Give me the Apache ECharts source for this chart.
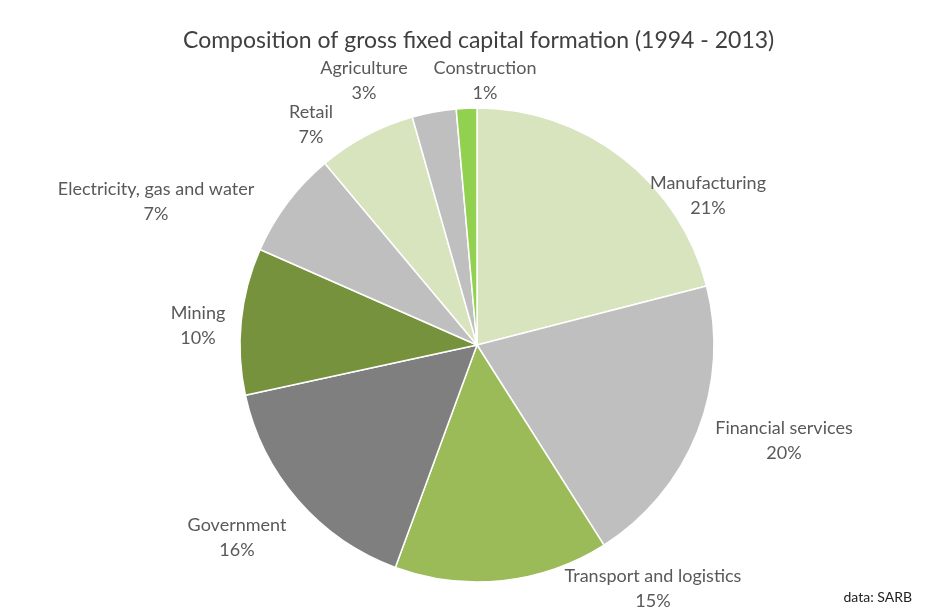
<!DOCTYPE html>
<html><head><meta charset="utf-8">
<script src="https://cdn.jsdelivr.net/npm/echarts@6/dist/echarts.min.js"></script>
<style>html,body{margin:0;padding:0;background:#fff}#c{width:928px;height:610px}</style>
</head><body><div id="c"></div>
<script>
var categories = ['Manufacturing','Financial services','Transport and logistics','Government','Mining','Electricity, gas and water','Retail','Agriculture','Construction'];
var shares = [21, 20, 14.6, 16, 10, 7.3, 6.7, 3, 1.4];
var colors = ['#d7e4bd','#bfbfbf','#9bbb59','#7f7f7f','#76923c','#bfbfbf','#d7e4bd','#bfbfbf','#92d050'];
var titleText = 'Composition of gross fixed capital formation (1994 - 2013)';
var sourceText = 'data: SARB';

// label anchor points (layout only, Excel-style manually placed data labels)
var labelAnchors = [[708,196],[784,441],[653,589],[237,538],[198,326],[156,202],[311,125],[364,81],[485,81]];

var chart = echarts.init(document.getElementById('c'), null, {renderer:'canvas'});
var data = categories.map(function(n,i){return {name:n, value:shares[i], itemStyle:{color:colors[i]}};});
chart.setOption({
  backgroundColor:'#fff',
  animation:false,
  title:{text:titleText, left:178, top:24, textStyle:{fontFamily:'Lato', fontWeight:'normal', fontSize:23, color:'#404040'}},
  graphic:[{type:'text', right:16, bottom:6, style:{text:sourceText, font:'14px Lato', fill:'#222'}}],
  series:[{
    type:'pie', center:[477,345], radius:237, startAngle:90, clockwise:true,
    itemStyle:{borderColor:'#fff', borderWidth:1.5},
    label:{show:true, position:'outside', formatter:function(p){return p.name+'\n'+Math.round(p.percent)+'%';}, fontFamily:'Lato', fontSize:18, color:'#595959', lineHeight:25, align:'center'},
    labelLine:{show:false},
    labelLayout:function(p){var a=labelAnchors[p.dataIndex];return {x:a[0], y:a[1], align:'center', verticalAlign:'middle'};},
    data:data
  }]
});
</script></body></html>
